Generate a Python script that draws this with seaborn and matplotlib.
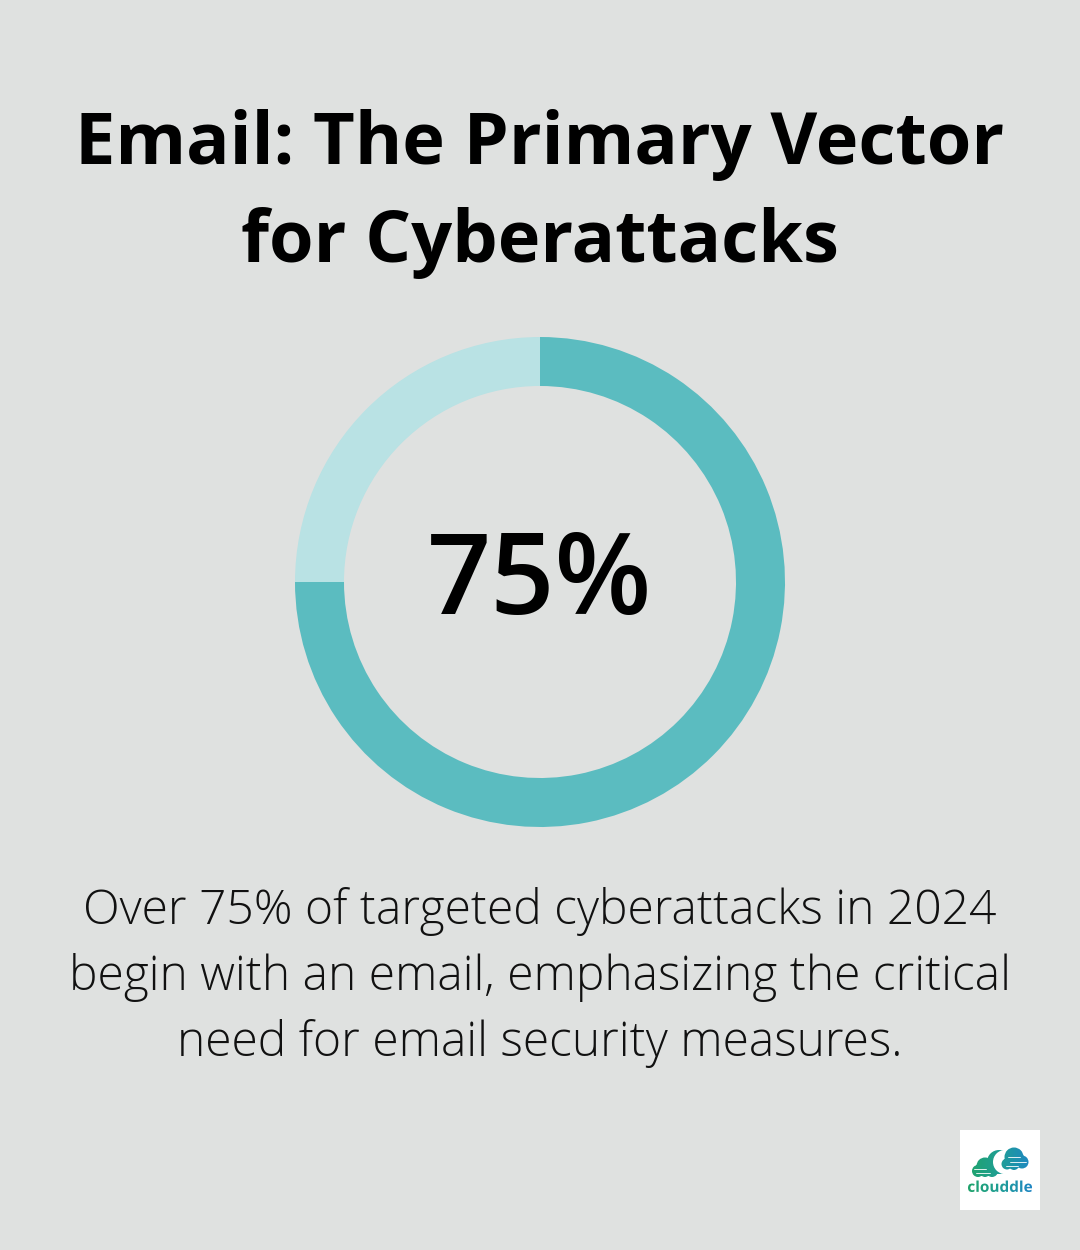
import numpy as np
import matplotlib
matplotlib.use('Agg')
import matplotlib.pyplot as plt
from matplotlib.font_manager import FontProperties
from matplotlib.patches import PathPatch
from matplotlib.path import Path
from matplotlib.textpath import TextPath
from matplotlib.transforms import Affine2D
import seaborn as sns

# Chart values
slice_labels = ['Begin with email', 'Other']
slice_values = [75, 25]
slice_colors = ['#5BBCC0', '#B9E2E4']

title_lines = ['Email: The Primary Vector', 'for Cyberattacks']
center_label = '75%'
caption_lines = [
    'Over 75% of targeted cyberattacks in 2024',
    'begin with an email, emphasizing the critical',
    'need for email security measures.',
]
logo_label = 'clouddle'

bg = '#DFE1E0'

sns.set_theme(style='white')
plt.rcParams['font.family'] = ['Open Sans', 'DejaVu Sans']

W, H = 1080, 1250
fig = plt.figure(figsize=(W / 100, H / 100), dpi=100, facecolor=bg)

# Title
for txt, y in zip(title_lines, [145, 243]):
    fig.text(540 / W, 1 - y / H, txt, ha='center', va='center', fontsize=51.9,
             fontweight='bold', color='black')

# Donut
left, right, top, bottom = 295, 785, 337, 827
ax = fig.add_axes([left / W, 1 - bottom / H, (right - left) / W, (bottom - top) / H])
ax.pie(slice_values, colors=slice_colors, startangle=90, counterclock=False,
       radius=1.0, wedgeprops={'width': 0.2, 'linewidth': 0})
ax.set_xlim(-1, 1)
ax.set_ylim(-1, 1)
ax.text(0, -0.012, center_label, ha='center', va='center', fontsize=81,
        fontweight='semibold', color='black')

# Caption
for txt, y in zip(caption_lines, [911, 977, 1043]):
    fig.text(540 / W, 1 - y / H, txt, ha='center', va='center', fontsize=34.6,
             fontweight='light', color='#111111')

# Logo box
logo = fig.add_axes([960 / W, 1 - 1210 / H, 80 / W, 80 / H], facecolor='white')
logo.set_xticks([])
logo.set_yticks([])
for s in logo.spines.values():
    s.set_visible(False)


def blob(cx, cy, r):
    return Path.circle((cx, cy), r)


# Green to blue gradient shared by the clouds and the wordmark
gradient = np.linspace(0, 1, 80).reshape(1, -1)
cmap = matplotlib.colors.LinearSegmentedColormap.from_list(
    'logo', ['#1FA36B', '#1F9E96', '#1E86C4'])


def fill_gradient(path, zorder):
    img = logo.imshow(gradient, extent=[8, 72, 80, 0], aspect='auto', cmap=cmap, zorder=zorder)
    img.set_clip_path(PathPatch(path, transform=logo.transData))


# Left cloud and crescent sit under the white cut-out
under = [blob(18, 41, 6), blob(25, 36, 8.5), blob(32, 41, 6), blob(25, 42, 5), blob(39, 32, 12)]
fill_gradient(Path.make_compound_path(*under), 1)
logo.add_patch(plt.Circle((45, 32), 12, color='white', lw=0, zorder=2))

# Right cloud on top of the cut-out
right_cloud = [blob(47, 34, 5.5), blob(54, 27, 9.5), blob(62, 32, 6.5), blob(54, 35, 5)]
fill_gradient(Path.make_compound_path(*right_cloud), 3)

# Wordmark as an outline, flipped because the logo axes run downward
word = TextPath((0, 0), logo_label, size=15,
                prop=FontProperties(family='Open Sans', weight='bold'))
box = word.get_extents()
word = word.transformed(Affine2D().translate(-box.x0, -box.y0)
                        .scale(64 / box.width, -11.5 / box.height)
                        .translate(8, 62))
fill_gradient(word, 3)

# Small white strokes inside the clouds
for x0, x1, y in [(14, 26, 39), (16, 30, 43), (48, 60, 27), (50, 66, 32), (46, 58, 36)]:
    logo.plot([x0, x1], [y, y], color='white', lw=0.6, zorder=4)

logo.set_xlim(0, 80)
logo.set_ylim(80, 0)

fig.savefig('out.png', dpi=100, facecolor=bg)
